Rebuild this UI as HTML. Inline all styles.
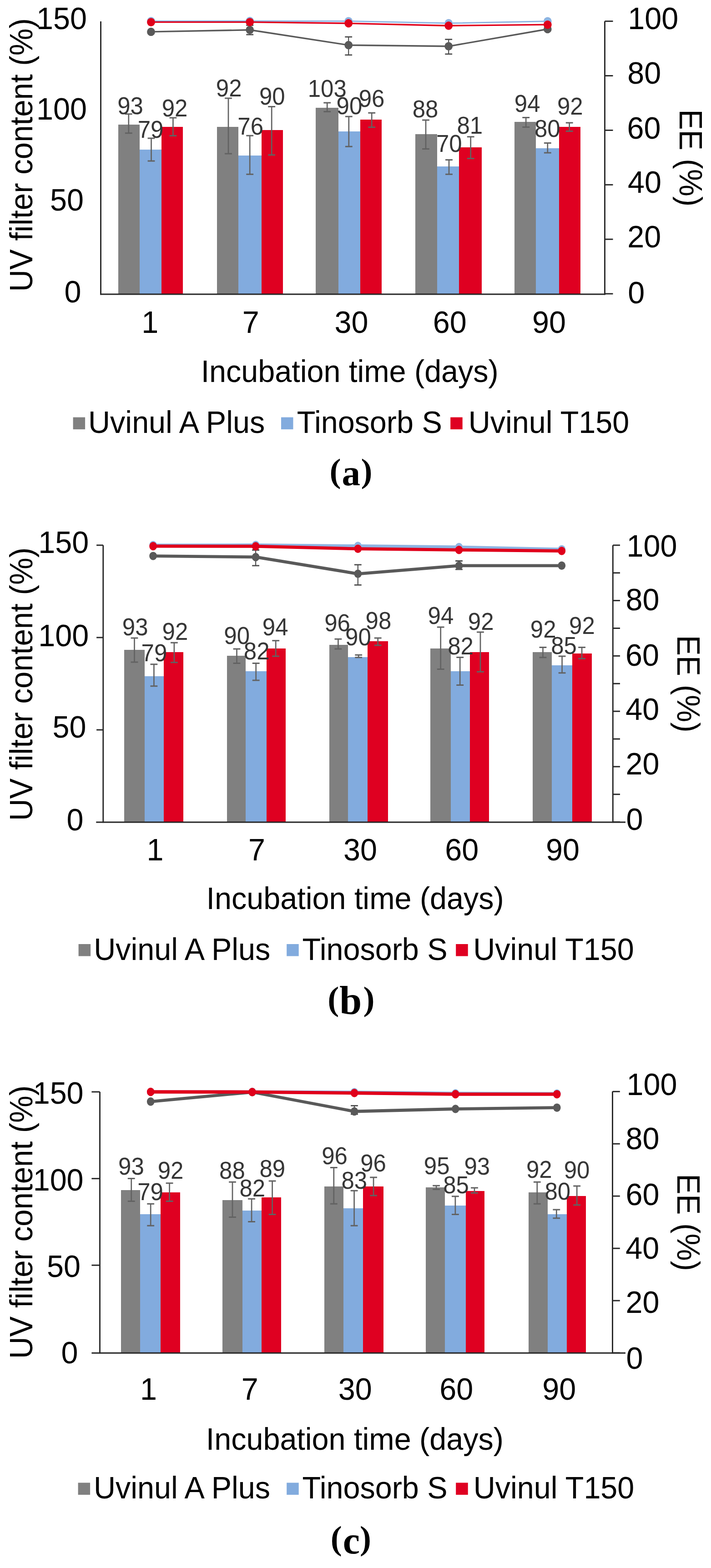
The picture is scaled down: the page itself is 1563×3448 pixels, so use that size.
<!DOCTYPE html>
<html><head><meta charset="utf-8"><title>UV filter content and EE over incubation time</title>
<style>
html,body{margin:0;padding:0;background:#fff;}
svg{display:block;}
text{font-family:'Liberation Sans', Arial, sans-serif;}
</style></head>
<body>
<svg width="1563" height="3448" viewBox="0 0 1563 3448">
<rect width="1563" height="3448" fill="#fff"/>
<rect x="260.00" y="274.00" width="47.00" height="373.00" fill="#808080"/>
<rect x="307.00" y="329.00" width="48.00" height="318.00" fill="#82ABDE"/>
<rect x="355.00" y="279.00" width="47.00" height="368.00" fill="#DF0021"/>
<rect x="477.00" y="279.00" width="47.00" height="368.00" fill="#808080"/>
<rect x="524.00" y="342.00" width="51.00" height="305.00" fill="#82ABDE"/>
<rect x="575.00" y="286.00" width="47.00" height="361.00" fill="#DF0021"/>
<rect x="694.00" y="237.00" width="50.00" height="410.00" fill="#808080"/>
<rect x="744.00" y="289.00" width="48.00" height="358.00" fill="#82ABDE"/>
<rect x="792.00" y="263.00" width="47.00" height="384.00" fill="#DF0021"/>
<rect x="913.00" y="295.00" width="48.00" height="352.00" fill="#808080"/>
<rect x="961.00" y="366.00" width="48.00" height="281.00" fill="#82ABDE"/>
<rect x="1009.00" y="324.00" width="50.00" height="323.00" fill="#DF0021"/>
<rect x="1131.00" y="268.00" width="47.00" height="379.00" fill="#808080"/>
<rect x="1178.00" y="326.00" width="51.00" height="321.00" fill="#82ABDE"/>
<rect x="1229.00" y="279.00" width="47.00" height="368.00" fill="#DF0021"/>
<path d="M282.80 250.70V292.80" stroke="#626262" stroke-width="2.7" fill="none"/>
<path d="M274.90 250.70H290.70M274.90 292.80H290.70" stroke="#626262" stroke-width="3.0" fill="none"/>
<path d="M332.50 304.00V354.10" stroke="#626262" stroke-width="2.7" fill="none"/>
<path d="M324.60 304.00H340.40M324.60 354.10H340.40" stroke="#626262" stroke-width="3.0" fill="none"/>
<path d="M380.40 258.90V298.60" stroke="#626262" stroke-width="2.7" fill="none"/>
<path d="M372.50 258.90H388.30M372.50 298.60H388.30" stroke="#626262" stroke-width="3.0" fill="none"/>
<path d="M502.00 216.10V338.00" stroke="#626262" stroke-width="2.7" fill="none"/>
<path d="M494.10 216.10H509.90M494.10 338.00H509.90" stroke="#626262" stroke-width="3.0" fill="none"/>
<path d="M549.20 298.30V383.20" stroke="#626262" stroke-width="2.7" fill="none"/>
<path d="M541.30 298.30H557.10M541.30 383.20H557.10" stroke="#626262" stroke-width="3.0" fill="none"/>
<path d="M597.20 234.60V340.80" stroke="#626262" stroke-width="2.7" fill="none"/>
<path d="M589.30 234.60H605.10M589.30 340.80H605.10" stroke="#626262" stroke-width="3.0" fill="none"/>
<path d="M719.20 226.00V245.50" stroke="#626262" stroke-width="2.7" fill="none"/>
<path d="M711.30 226.00H727.10M711.30 245.50H727.10" stroke="#626262" stroke-width="3.0" fill="none"/>
<path d="M766.80 256.20V322.30" stroke="#626262" stroke-width="2.7" fill="none"/>
<path d="M758.90 256.20H774.70M758.90 322.30H774.70" stroke="#626262" stroke-width="3.0" fill="none"/>
<path d="M817.20 248.30V279.80" stroke="#626262" stroke-width="2.7" fill="none"/>
<path d="M809.30 248.30H825.10M809.30 279.80H825.10" stroke="#626262" stroke-width="3.0" fill="none"/>
<path d="M936.00 264.00V327.40" stroke="#626262" stroke-width="2.7" fill="none"/>
<path d="M928.10 264.00H943.90M928.10 327.40H943.90" stroke="#626262" stroke-width="3.0" fill="none"/>
<path d="M987.00 351.40V383.20" stroke="#626262" stroke-width="2.7" fill="none"/>
<path d="M979.10 351.40H994.90M979.10 383.20H994.90" stroke="#626262" stroke-width="3.0" fill="none"/>
<path d="M1034.70 300.70V348.60" stroke="#626262" stroke-width="2.7" fill="none"/>
<path d="M1026.80 300.70H1042.60M1026.80 348.60H1042.60" stroke="#626262" stroke-width="3.0" fill="none"/>
<path d="M1156.20 258.60V279.50" stroke="#626262" stroke-width="2.7" fill="none"/>
<path d="M1148.30 258.60H1164.10M1148.30 279.50H1164.10" stroke="#626262" stroke-width="3.0" fill="none"/>
<path d="M1203.80 314.40V336.00" stroke="#626262" stroke-width="2.7" fill="none"/>
<path d="M1195.90 314.40H1211.70M1195.90 336.00H1211.70" stroke="#626262" stroke-width="3.0" fill="none"/>
<path d="M1251.70 269.90V288.40" stroke="#626262" stroke-width="2.7" fill="none"/>
<path d="M1243.80 269.90H1259.60M1243.80 288.40H1259.60" stroke="#626262" stroke-width="3.0" fill="none"/>
<text transform="translate(258.25 250.92) scale(1 1.04)" font-size="51.0" fill="#363636">93</text>
<text transform="translate(302.75 302.77) scale(1 1.04)" font-size="51.0" fill="#363636">79</text>
<text transform="translate(355.75 256.02) scale(1 1.04)" font-size="51.0" fill="#363636">92</text>
<text transform="translate(474.85 212.37) scale(1 1.04)" font-size="51.0" fill="#363636">92</text>
<text transform="translate(522.30 295.97) scale(1 1.04)" font-size="51.0" fill="#363636">76</text>
<text transform="translate(569.90 230.02) scale(1 1.04)" font-size="51.0" fill="#363636">90</text>
<text transform="translate(676.75 212.92) scale(1 1.04)" font-size="51.0" fill="#363636">103</text>
<text transform="translate(739.55 251.22) scale(1 1.04)" font-size="51.0" fill="#363636">90</text>
<text transform="translate(788.70 234.97) scale(1 1.04)" font-size="51.0" fill="#363636">96</text>
<text transform="translate(906.70 258.27) scale(1 1.04)" font-size="51.0" fill="#363636">88</text>
<text transform="translate(959.00 333.62) scale(1 1.04)" font-size="51.0" fill="#363636">70</text>
<text transform="translate(1004.45 294.27) scale(1 1.04)" font-size="51.0" fill="#363636">81</text>
<text transform="translate(1130.80 245.77) scale(1 1.04)" font-size="51.0" fill="#363636">94</text>
<text transform="translate(1174.90 301.07) scale(1 1.04)" font-size="51.0" fill="#363636">80</text>
<text transform="translate(1224.90 252.47) scale(1 1.04)" font-size="51.0" fill="#363636">92</text>
<line x1="221.50" y1="47.00" x2="221.50" y2="648.30" stroke="#262626" stroke-width="2.9"/>
<line x1="220.20" y1="647.00" x2="1330.80" y2="647.00" stroke="#262626" stroke-width="2.9"/>
<line x1="1329.50" y1="46.70" x2="1329.50" y2="648.30" stroke="#262626" stroke-width="2.9"/>
<line x1="1329.50" y1="46.70" x2="1347.50" y2="46.70" stroke="#262626" stroke-width="2.9"/>
<line x1="1329.50" y1="166.56" x2="1347.50" y2="166.56" stroke="#262626" stroke-width="2.9"/>
<line x1="1329.50" y1="286.42" x2="1347.50" y2="286.42" stroke="#262626" stroke-width="2.9"/>
<line x1="1329.50" y1="406.28" x2="1347.50" y2="406.28" stroke="#262626" stroke-width="2.9"/>
<line x1="1329.50" y1="526.14" x2="1347.50" y2="526.14" stroke="#262626" stroke-width="2.9"/>
<line x1="1329.50" y1="646.00" x2="1347.50" y2="646.00" stroke="#262626" stroke-width="2.9"/>
<path d="M549.20 55.50V76.20" stroke="#4d4d4d" stroke-width="2.2" fill="none"/>
<path d="M541.30 55.50H557.10M541.30 76.20H557.10" stroke="#4d4d4d" stroke-width="2.8" fill="none"/>
<path d="M766.20 81.10V120.90" stroke="#4d4d4d" stroke-width="2.2" fill="none"/>
<path d="M758.30 81.10H774.10M758.30 120.90H774.10" stroke="#4d4d4d" stroke-width="2.8" fill="none"/>
<path d="M986.20 86.60V118.80" stroke="#4d4d4d" stroke-width="2.2" fill="none"/>
<path d="M978.30 86.60H994.10M978.30 118.80H994.10" stroke="#4d4d4d" stroke-width="2.8" fill="none"/>
<polyline points="332.00,69.90 549.20,65.80 766.20,99.20 986.20,101.80 1203.80,64.00" fill="none" stroke="#595959" stroke-width="3.4" stroke-linejoin="round"/>
<ellipse cx="332.00" cy="69.90" rx="8.9" ry="9.2" fill="#595959"/>
<ellipse cx="549.20" cy="65.80" rx="8.9" ry="9.2" fill="#595959"/>
<ellipse cx="766.20" cy="99.20" rx="8.9" ry="9.2" fill="#595959"/>
<ellipse cx="986.20" cy="101.80" rx="8.9" ry="9.2" fill="#595959"/>
<ellipse cx="1203.80" cy="64.00" rx="8.9" ry="9.2" fill="#595959"/>
<polyline points="332.00,46.40 549.20,46.20 766.20,46.60 986.20,51.00 1203.80,46.80" fill="none" stroke="#8DB4E2" stroke-width="3.0" stroke-linejoin="round"/>
<ellipse cx="332.00" cy="46.40" rx="8.9" ry="9.2" fill="#8DB4E2"/>
<ellipse cx="549.20" cy="46.20" rx="8.9" ry="9.2" fill="#8DB4E2"/>
<ellipse cx="766.20" cy="46.60" rx="8.9" ry="9.2" fill="#8DB4E2"/>
<ellipse cx="986.20" cy="51.00" rx="8.9" ry="9.2" fill="#8DB4E2"/>
<ellipse cx="1203.80" cy="46.80" rx="8.9" ry="9.2" fill="#8DB4E2"/>
<polyline points="332.00,48.70 549.20,48.60 766.20,51.30 986.20,56.50 1203.80,54.20" fill="none" stroke="#E0001B" stroke-width="3.3" stroke-linejoin="round"/>
<ellipse cx="332.00" cy="48.70" rx="8.9" ry="9.2" fill="#E0001B"/>
<ellipse cx="549.20" cy="48.60" rx="8.9" ry="9.2" fill="#E0001B"/>
<ellipse cx="766.20" cy="51.30" rx="8.9" ry="9.2" fill="#E0001B"/>
<ellipse cx="986.20" cy="56.50" rx="8.9" ry="9.2" fill="#E0001B"/>
<ellipse cx="1203.80" cy="54.20" rx="8.9" ry="9.2" fill="#E0001B"/>
<text transform="translate(79.95 64.17) scale(1 1.04)" font-size="66.5" fill="#000">150</text>
<text transform="translate(79.95 262.77) scale(1 1.04)" font-size="66.5" fill="#000">100</text>
<text transform="translate(110.10 463.27) scale(1 1.04)" font-size="66.5" fill="#000">50</text>
<text transform="translate(141.50 664.87) scale(1 1.04)" font-size="66.5" fill="#000">0</text>
<text transform="translate(1380.30 64.02) scale(1 1.04)" font-size="66.5" fill="#000">100</text>
<text transform="translate(1379.30 183.97) scale(1 1.04)" font-size="66.5" fill="#000">80</text>
<text transform="translate(1378.40 305.17) scale(1 1.04)" font-size="66.5" fill="#000">60</text>
<text transform="translate(1379.90 424.37) scale(1 1.04)" font-size="66.5" fill="#000">40</text>
<text transform="translate(1379.30 543.87) scale(1 1.04)" font-size="66.5" fill="#000">20</text>
<text transform="translate(1380.30 666.57) scale(1 1.04)" font-size="66.5" fill="#000">0</text>
<text transform="translate(311.30 732.42) scale(1 1.04)" font-size="66.5" fill="#000">1</text>
<text transform="translate(532.70 732.42) scale(1 1.04)" font-size="66.5" fill="#000">7</text>
<text transform="translate(735.60 732.42) scale(1 1.04)" font-size="66.5" fill="#000">30</text>
<text transform="translate(951.80 732.42) scale(1 1.04)" font-size="66.5" fill="#000">60</text>
<text transform="translate(1170.00 732.42) scale(1 1.04)" font-size="66.5" fill="#000">90</text>
<text transform="translate(441.65 839.63) scale(1 1.04)" font-size="66.5" fill="#000">Incubation time (days)</text>
<text transform="translate(53.00 340.40) rotate(-90) translate(-301.00 17.68) scale(1 1.04)" font-size="67.2" fill="#000">UV filter content (%)</text>
<text transform="translate(1511.30 347.90) rotate(90) translate(-107.50 17.68) scale(1 1.04)" font-size="67.5" fill="#000">EE (%)</text>
<rect x="160.60" y="917.60" width="26.50" height="26.50" fill="#808080"/>
<rect x="618.00" y="917.60" width="26.50" height="26.50" fill="#82ABDE"/>
<rect x="990.20" y="917.60" width="26.50" height="26.50" fill="#DF0021"/>
<text transform="translate(194.10 951.60) scale(1 1.04)" font-size="66.5" fill="#000">Uvinul A Plus</text>
<text transform="translate(652.75 951.60) scale(1 1.04)" font-size="66.5" fill="#000">Tinosorb S</text>
<text transform="translate(1029.70 951.60) scale(1 1.04)" font-size="66.5" fill="#000">Uvinul T150</text>
<text font-weight="bold" style="font-family:'Liberation Serif', 'Times New Roman', serif" fill="#000"><tspan x="724.60" y="1059.70" font-size="75">(</tspan><tspan x="751.40" y="1067.10" font-size="81">a</tspan><tspan x="793.40" y="1059.70" font-size="75">)</tspan></text>
<rect x="273.00" y="1429.00" width="45.00" height="379.00" fill="#808080"/>
<rect x="318.00" y="1487.00" width="42.00" height="321.00" fill="#82ABDE"/>
<rect x="360.00" y="1434.00" width="43.00" height="374.00" fill="#DF0021"/>
<rect x="499.00" y="1442.00" width="41.00" height="366.00" fill="#808080"/>
<rect x="540.00" y="1476.00" width="46.00" height="332.00" fill="#82ABDE"/>
<rect x="586.00" y="1426.00" width="42.00" height="382.00" fill="#DF0021"/>
<rect x="724.00" y="1418.00" width="41.00" height="390.00" fill="#808080"/>
<rect x="765.00" y="1445.00" width="43.00" height="363.00" fill="#82ABDE"/>
<rect x="808.00" y="1410.00" width="45.00" height="398.00" fill="#DF0021"/>
<rect x="946.00" y="1426.00" width="45.00" height="382.00" fill="#808080"/>
<rect x="991.00" y="1476.00" width="42.00" height="332.00" fill="#82ABDE"/>
<rect x="1033.00" y="1434.00" width="42.00" height="374.00" fill="#DF0021"/>
<rect x="1171.00" y="1434.00" width="42.00" height="374.00" fill="#808080"/>
<rect x="1213.00" y="1463.00" width="45.00" height="345.00" fill="#82ABDE"/>
<rect x="1258.00" y="1437.00" width="43.00" height="371.00" fill="#DF0021"/>
<path d="M295.50 1403.00V1456.00" stroke="#626262" stroke-width="2.7" fill="none"/>
<path d="M287.60 1403.00H303.40M287.60 1456.00H303.40" stroke="#626262" stroke-width="3.0" fill="none"/>
<path d="M338.40 1460.80V1508.80" stroke="#626262" stroke-width="2.7" fill="none"/>
<path d="M330.50 1460.80H346.30M330.50 1508.80H346.30" stroke="#626262" stroke-width="3.0" fill="none"/>
<path d="M382.90 1413.20V1456.70" stroke="#626262" stroke-width="2.7" fill="none"/>
<path d="M375.00 1413.20H390.80M375.00 1456.70H390.80" stroke="#626262" stroke-width="3.0" fill="none"/>
<path d="M520.50 1426.90V1458.40" stroke="#626262" stroke-width="2.7" fill="none"/>
<path d="M512.60 1426.90H528.40M512.60 1458.40H528.40" stroke="#626262" stroke-width="3.0" fill="none"/>
<path d="M562.70 1458.40V1496.10" stroke="#626262" stroke-width="2.7" fill="none"/>
<path d="M554.80 1458.40H570.60M554.80 1496.10H570.60" stroke="#626262" stroke-width="3.0" fill="none"/>
<path d="M606.20 1408.80V1443.00" stroke="#626262" stroke-width="2.7" fill="none"/>
<path d="M598.30 1408.80H614.10M598.30 1443.00H614.10" stroke="#626262" stroke-width="3.0" fill="none"/>
<path d="M743.40 1405.30V1426.90" stroke="#626262" stroke-width="2.7" fill="none"/>
<path d="M735.50 1405.30H751.30M735.50 1426.90H751.30" stroke="#626262" stroke-width="3.0" fill="none"/>
<path d="M788.20 1440.30V1445.80" stroke="#626262" stroke-width="2.7" fill="none"/>
<path d="M780.30 1440.30H796.10M780.30 1445.80H796.10" stroke="#626262" stroke-width="3.0" fill="none"/>
<path d="M830.70 1403.00V1419.00" stroke="#626262" stroke-width="2.7" fill="none"/>
<path d="M822.80 1403.00H838.60M822.80 1419.00H838.60" stroke="#626262" stroke-width="3.0" fill="none"/>
<path d="M968.70 1379.00V1471.40" stroke="#626262" stroke-width="2.7" fill="none"/>
<path d="M960.80 1379.00H976.60M960.80 1471.40H976.60" stroke="#626262" stroke-width="3.0" fill="none"/>
<path d="M1011.20 1445.40V1506.40" stroke="#626262" stroke-width="2.7" fill="none"/>
<path d="M1003.30 1445.40H1019.10M1003.30 1506.40H1019.10" stroke="#626262" stroke-width="3.0" fill="none"/>
<path d="M1056.00 1390.00V1477.30" stroke="#626262" stroke-width="2.7" fill="none"/>
<path d="M1048.10 1390.00H1063.90M1048.10 1477.30H1063.90" stroke="#626262" stroke-width="3.0" fill="none"/>
<path d="M1193.50 1423.50V1445.80" stroke="#626262" stroke-width="2.7" fill="none"/>
<path d="M1185.60 1423.50H1201.40M1185.60 1445.80H1201.40" stroke="#626262" stroke-width="3.0" fill="none"/>
<path d="M1235.60 1443.00V1479.70" stroke="#626262" stroke-width="2.7" fill="none"/>
<path d="M1227.70 1443.00H1243.50M1227.70 1479.70H1243.50" stroke="#626262" stroke-width="3.0" fill="none"/>
<path d="M1279.10 1423.50V1448.20" stroke="#626262" stroke-width="2.7" fill="none"/>
<path d="M1271.20 1423.50H1287.00M1271.20 1448.20H1287.00" stroke="#626262" stroke-width="3.0" fill="none"/>
<text transform="translate(268.80 1396.67) scale(1 1.04)" font-size="51.0" fill="#363636">93</text>
<text transform="translate(310.55 1454.22) scale(1 1.04)" font-size="51.0" fill="#363636">79</text>
<text transform="translate(356.60 1406.92) scale(1 1.04)" font-size="51.0" fill="#363636">92</text>
<text transform="translate(492.35 1416.02) scale(1 1.04)" font-size="51.0" fill="#363636">90</text>
<text transform="translate(535.85 1449.92) scale(1 1.04)" font-size="51.0" fill="#363636">82</text>
<text transform="translate(576.80 1397.17) scale(1 1.04)" font-size="51.0" fill="#363636">94</text>
<text transform="translate(713.15 1387.57) scale(1 1.04)" font-size="51.0" fill="#363636">96</text>
<text transform="translate(759.05 1418.92) scale(1 1.04)" font-size="51.0" fill="#363636">90</text>
<text transform="translate(803.55 1382.92) scale(1 1.04)" font-size="51.0" fill="#363636">98</text>
<text transform="translate(940.55 1372.17) scale(1 1.04)" font-size="51.0" fill="#363636">94</text>
<text transform="translate(984.20 1438.62) scale(1 1.04)" font-size="51.0" fill="#363636">82</text>
<text transform="translate(1028.80 1385.17) scale(1 1.04)" font-size="51.0" fill="#363636">92</text>
<text transform="translate(1165.85 1401.82) scale(1 1.04)" font-size="51.0" fill="#363636">92</text>
<text transform="translate(1211.20 1437.77) scale(1 1.04)" font-size="51.0" fill="#363636">85</text>
<text transform="translate(1251.10 1394.47) scale(1 1.04)" font-size="51.0" fill="#363636">92</text>
<line x1="226.80" y1="1198.90" x2="226.80" y2="1809.30" stroke="#262626" stroke-width="2.9"/>
<line x1="211.30" y1="1808.00" x2="1375.00" y2="1808.00" stroke="#262626" stroke-width="2.9"/>
<line x1="1347.30" y1="1198.90" x2="1347.30" y2="1809.30" stroke="#262626" stroke-width="2.9"/>
<line x1="212.10" y1="1198.90" x2="226.80" y2="1198.90" stroke="#262626" stroke-width="2.9"/>
<line x1="212.10" y1="1401.93" x2="226.80" y2="1401.93" stroke="#262626" stroke-width="2.9"/>
<line x1="212.10" y1="1604.96" x2="226.80" y2="1604.96" stroke="#262626" stroke-width="2.9"/>
<line x1="1347.30" y1="1198.90" x2="1363.00" y2="1198.90" stroke="#262626" stroke-width="2.9"/>
<line x1="1347.30" y1="1259.77" x2="1363.00" y2="1259.77" stroke="#262626" stroke-width="2.9"/>
<line x1="1347.30" y1="1320.64" x2="1363.00" y2="1320.64" stroke="#262626" stroke-width="2.9"/>
<line x1="1347.30" y1="1381.51" x2="1363.00" y2="1381.51" stroke="#262626" stroke-width="2.9"/>
<line x1="1347.30" y1="1442.38" x2="1363.00" y2="1442.38" stroke="#262626" stroke-width="2.9"/>
<line x1="1347.30" y1="1503.25" x2="1363.00" y2="1503.25" stroke="#262626" stroke-width="2.9"/>
<line x1="1347.30" y1="1564.12" x2="1363.00" y2="1564.12" stroke="#262626" stroke-width="2.9"/>
<line x1="1347.30" y1="1624.99" x2="1363.00" y2="1624.99" stroke="#262626" stroke-width="2.9"/>
<line x1="1347.30" y1="1685.86" x2="1363.00" y2="1685.86" stroke="#262626" stroke-width="2.9"/>
<line x1="1347.30" y1="1746.73" x2="1363.00" y2="1746.73" stroke="#262626" stroke-width="2.9"/>
<line x1="1347.30" y1="1807.60" x2="1363.00" y2="1807.60" stroke="#262626" stroke-width="2.9"/>
<path d="M562.10 1209.50V1243.80" stroke="#4d4d4d" stroke-width="2.2" fill="none"/>
<path d="M554.20 1209.50H570.00M554.20 1243.80H570.00" stroke="#4d4d4d" stroke-width="2.8" fill="none"/>
<path d="M786.80 1241.80V1286.30" stroke="#4d4d4d" stroke-width="2.2" fill="none"/>
<path d="M778.90 1241.80H794.70M778.90 1286.30H794.70" stroke="#4d4d4d" stroke-width="2.8" fill="none"/>
<path d="M1009.00 1233.50V1252.20" stroke="#4d4d4d" stroke-width="2.2" fill="none"/>
<path d="M1001.10 1233.50H1016.90M1001.10 1252.20H1016.90" stroke="#4d4d4d" stroke-width="2.8" fill="none"/>
<polyline points="336.60,1222.60 562.10,1224.90 786.80,1261.80 1009.00,1243.90 1234.80,1243.80" fill="none" stroke="#595959" stroke-width="6.8" stroke-linejoin="round"/>
<ellipse cx="336.60" cy="1222.60" rx="8.4" ry="9.2" fill="#595959"/>
<ellipse cx="562.10" cy="1224.90" rx="8.4" ry="9.2" fill="#595959"/>
<ellipse cx="786.80" cy="1261.80" rx="8.4" ry="9.2" fill="#595959"/>
<ellipse cx="1009.00" cy="1243.90" rx="8.4" ry="9.2" fill="#595959"/>
<ellipse cx="1234.80" cy="1243.80" rx="8.4" ry="9.2" fill="#595959"/>
<polyline points="336.60,1198.80 562.10,1198.50 786.80,1200.50 1009.00,1203.00 1234.80,1208.00" fill="none" stroke="#8DB4E2" stroke-width="6.8" stroke-linejoin="round"/>
<ellipse cx="336.60" cy="1198.80" rx="8.4" ry="9.2" fill="#8DB4E2"/>
<ellipse cx="562.10" cy="1198.50" rx="8.4" ry="9.2" fill="#8DB4E2"/>
<ellipse cx="786.80" cy="1200.50" rx="8.4" ry="9.2" fill="#8DB4E2"/>
<ellipse cx="1009.00" cy="1203.00" rx="8.4" ry="9.2" fill="#8DB4E2"/>
<ellipse cx="1234.80" cy="1208.00" rx="8.4" ry="9.2" fill="#8DB4E2"/>
<polyline points="336.60,1201.00 562.10,1201.20 786.80,1206.80 1009.00,1209.20 1234.80,1211.50" fill="none" stroke="#E0001B" stroke-width="7.0" stroke-linejoin="round"/>
<ellipse cx="336.60" cy="1201.00" rx="8.4" ry="9.2" fill="#E0001B"/>
<ellipse cx="562.10" cy="1201.20" rx="8.4" ry="9.2" fill="#E0001B"/>
<ellipse cx="786.80" cy="1206.80" rx="8.4" ry="9.2" fill="#E0001B"/>
<ellipse cx="1009.00" cy="1209.20" rx="8.4" ry="9.2" fill="#E0001B"/>
<ellipse cx="1234.80" cy="1211.50" rx="8.4" ry="9.2" fill="#E0001B"/>
<text transform="translate(84.30 1216.47) scale(1 1.04)" font-size="66.5" fill="#000">150</text>
<text transform="translate(84.30 1420.77) scale(1 1.04)" font-size="66.5" fill="#000">100</text>
<text transform="translate(115.45 1621.52) scale(1 1.04)" font-size="66.5" fill="#000">50</text>
<text transform="translate(146.40 1825.57) scale(1 1.04)" font-size="66.5" fill="#000">0</text>
<text transform="translate(1377.60 1223.52) scale(1 1.04)" font-size="66.5" fill="#000">100</text>
<text transform="translate(1375.50 1342.42) scale(1 1.04)" font-size="66.5" fill="#000">80</text>
<text transform="translate(1375.00 1464.02) scale(1 1.04)" font-size="66.5" fill="#000">60</text>
<text transform="translate(1375.30 1582.87) scale(1 1.04)" font-size="66.5" fill="#000">40</text>
<text transform="translate(1375.50 1702.87) scale(1 1.04)" font-size="66.5" fill="#000">20</text>
<text transform="translate(1376.50 1824.77) scale(1 1.04)" font-size="66.5" fill="#000">0</text>
<text transform="translate(322.50 1892.02) scale(1 1.04)" font-size="66.5" fill="#000">1</text>
<text transform="translate(546.00 1892.02) scale(1 1.04)" font-size="66.5" fill="#000">7</text>
<text transform="translate(755.00 1892.02) scale(1 1.04)" font-size="66.5" fill="#000">30</text>
<text transform="translate(978.30 1892.02) scale(1 1.04)" font-size="66.5" fill="#000">60</text>
<text transform="translate(1200.00 1892.02) scale(1 1.04)" font-size="66.5" fill="#000">90</text>
<text transform="translate(453.60 1998.83) scale(1 1.04)" font-size="66.5" fill="#000">Incubation time (days)</text>
<text transform="translate(53.10 1504.10) rotate(-90) translate(-301.00 17.68) scale(1 1.04)" font-size="67.2" fill="#000">UV filter content (%)</text>
<text transform="translate(1506.80 1504.35) rotate(90) translate(-107.50 17.68) scale(1 1.04)" font-size="67.5" fill="#000">EE (%)</text>
<rect x="172.60" y="2076.00" width="26.50" height="26.50" fill="#808080"/>
<rect x="630.20" y="2076.00" width="26.50" height="26.50" fill="#82ABDE"/>
<rect x="1002.20" y="2076.00" width="26.50" height="26.50" fill="#DF0021"/>
<text transform="translate(206.30 2111.10) scale(1 1.04)" font-size="66.5" fill="#000">Uvinul A Plus</text>
<text transform="translate(664.55 2111.10) scale(1 1.04)" font-size="66.5" fill="#000">Tinosorb S</text>
<text transform="translate(1040.15 2111.10) scale(1 1.04)" font-size="66.5" fill="#000">Uvinul T150</text>
<text font-weight="bold" style="font-family:'Liberation Serif', 'Times New Roman', serif" fill="#000"><tspan x="720.25" y="2220.85" font-size="75">(</tspan><tspan x="746.35" y="2230.35" font-size="88">b</tspan><tspan x="798.55" y="2220.85" font-size="75">)</tspan></text>
<rect x="266.00" y="2617.00" width="42.00" height="358.30" fill="#808080"/>
<rect x="308.00" y="2670.00" width="45.00" height="305.30" fill="#82ABDE"/>
<rect x="353.00" y="2622.00" width="43.00" height="353.30" fill="#DF0021"/>
<rect x="489.00" y="2639.00" width="44.00" height="336.30" fill="#808080"/>
<rect x="533.00" y="2662.00" width="42.00" height="313.30" fill="#82ABDE"/>
<rect x="575.00" y="2633.00" width="43.00" height="342.30" fill="#DF0021"/>
<rect x="713.00" y="2609.00" width="42.00" height="366.30" fill="#808080"/>
<rect x="755.00" y="2657.00" width="43.00" height="318.30" fill="#82ABDE"/>
<rect x="798.00" y="2609.00" width="45.00" height="366.30" fill="#DF0021"/>
<rect x="936.00" y="2611.00" width="42.00" height="364.30" fill="#808080"/>
<rect x="978.00" y="2651.00" width="46.00" height="324.30" fill="#82ABDE"/>
<rect x="1024.00" y="2619.00" width="41.00" height="356.30" fill="#DF0021"/>
<rect x="1162.00" y="2622.00" width="42.00" height="353.30" fill="#808080"/>
<rect x="1204.00" y="2670.00" width="42.00" height="305.30" fill="#82ABDE"/>
<rect x="1246.00" y="2630.00" width="42.00" height="345.30" fill="#DF0021"/>
<path d="M288.70 2591.40V2641.40" stroke="#626262" stroke-width="2.7" fill="none"/>
<path d="M280.80 2591.40H296.60M280.80 2641.40H296.60" stroke="#626262" stroke-width="3.0" fill="none"/>
<path d="M331.20 2647.30V2695.20" stroke="#626262" stroke-width="2.7" fill="none"/>
<path d="M323.30 2647.30H339.10M323.30 2695.20H339.10" stroke="#626262" stroke-width="3.0" fill="none"/>
<path d="M372.60 2601.70V2641.40" stroke="#626262" stroke-width="2.7" fill="none"/>
<path d="M364.70 2601.70H380.50M364.70 2641.40H380.50" stroke="#626262" stroke-width="3.0" fill="none"/>
<path d="M511.00 2599.30V2676.40" stroke="#626262" stroke-width="2.7" fill="none"/>
<path d="M503.10 2599.30H518.90M503.10 2676.40H518.90" stroke="#626262" stroke-width="3.0" fill="none"/>
<path d="M553.10 2636.30V2686.60" stroke="#626262" stroke-width="2.7" fill="none"/>
<path d="M545.20 2636.30H561.00M545.20 2686.60H561.00" stroke="#626262" stroke-width="3.0" fill="none"/>
<path d="M598.60 2596.90V2670.50" stroke="#626262" stroke-width="2.7" fill="none"/>
<path d="M590.70 2596.90H606.50M590.70 2670.50H606.50" stroke="#626262" stroke-width="3.0" fill="none"/>
<path d="M733.80 2567.50V2647.30" stroke="#626262" stroke-width="2.7" fill="none"/>
<path d="M725.90 2567.50H741.70M725.90 2647.30H741.70" stroke="#626262" stroke-width="3.0" fill="none"/>
<path d="M778.60 2618.20V2695.20" stroke="#626262" stroke-width="2.7" fill="none"/>
<path d="M770.70 2618.20H786.50M770.70 2695.20H786.50" stroke="#626262" stroke-width="3.0" fill="none"/>
<path d="M821.10 2589.00V2629.10" stroke="#626262" stroke-width="2.7" fill="none"/>
<path d="M813.20 2589.00H829.00M813.20 2629.10H829.00" stroke="#626262" stroke-width="3.0" fill="none"/>
<path d="M959.10 2607.20V2615.40" stroke="#626262" stroke-width="2.7" fill="none"/>
<path d="M951.20 2607.20H967.00M951.20 2615.40H967.00" stroke="#626262" stroke-width="3.0" fill="none"/>
<path d="M1000.90 2630.80V2670.50" stroke="#626262" stroke-width="2.7" fill="none"/>
<path d="M993.00 2630.80H1008.80M993.00 2670.50H1008.80" stroke="#626262" stroke-width="3.0" fill="none"/>
<path d="M1043.00 2612.00V2623.30" stroke="#626262" stroke-width="2.7" fill="none"/>
<path d="M1035.10 2612.00H1050.90M1035.10 2623.30H1050.90" stroke="#626262" stroke-width="3.0" fill="none"/>
<path d="M1180.80 2599.30V2647.30" stroke="#626262" stroke-width="2.7" fill="none"/>
<path d="M1172.90 2599.30H1188.70M1172.90 2647.30H1188.70" stroke="#626262" stroke-width="3.0" fill="none"/>
<path d="M1223.30 2659.90V2678.80" stroke="#626262" stroke-width="2.7" fill="none"/>
<path d="M1215.40 2659.90H1231.20M1215.40 2678.80H1231.20" stroke="#626262" stroke-width="3.0" fill="none"/>
<path d="M1268.20 2607.90V2649.70" stroke="#626262" stroke-width="2.7" fill="none"/>
<path d="M1260.30 2607.90H1276.10M1260.30 2649.70H1276.10" stroke="#626262" stroke-width="3.0" fill="none"/>
<text transform="translate(260.05 2582.92) scale(1 1.04)" font-size="51.0" fill="#363636">93</text>
<text transform="translate(302.15 2639.42) scale(1 1.04)" font-size="51.0" fill="#363636">79</text>
<text transform="translate(346.65 2591.52) scale(1 1.04)" font-size="51.0" fill="#363636">92</text>
<text transform="translate(482.10 2591.52) scale(1 1.04)" font-size="51.0" fill="#363636">88</text>
<text transform="translate(526.45 2630.87) scale(1 1.04)" font-size="51.0" fill="#363636">82</text>
<text transform="translate(570.45 2588.07) scale(1 1.04)" font-size="51.0" fill="#363636">89</text>
<text transform="translate(707.15 2559.82) scale(1 1.04)" font-size="51.0" fill="#363636">96</text>
<text transform="translate(750.45 2613.72) scale(1 1.04)" font-size="51.0" fill="#363636">83</text>
<text transform="translate(792.25 2576.07) scale(1 1.04)" font-size="51.0" fill="#363636">96</text>
<text transform="translate(931.80 2582.07) scale(1 1.04)" font-size="51.0" fill="#363636">95</text>
<text transform="translate(974.25 2624.02) scale(1 1.04)" font-size="51.0" fill="#363636">85</text>
<text transform="translate(1020.50 2583.27) scale(1 1.04)" font-size="51.0" fill="#363636">93</text>
<text transform="translate(1156.90 2590.47) scale(1 1.04)" font-size="51.0" fill="#363636">92</text>
<text transform="translate(1197.50 2637.72) scale(1 1.04)" font-size="51.0" fill="#363636">80</text>
<text transform="translate(1239.65 2590.97) scale(1 1.04)" font-size="51.0" fill="#363636">90</text>
<line x1="219.50" y1="2401.00" x2="219.50" y2="2976.60" stroke="#262626" stroke-width="2.9"/>
<line x1="201.40" y1="2975.30" x2="1375.00" y2="2975.30" stroke="#262626" stroke-width="2.9"/>
<line x1="1346.50" y1="2400.30" x2="1346.50" y2="2976.60" stroke="#262626" stroke-width="2.9"/>
<line x1="201.40" y1="2401.00" x2="219.50" y2="2401.00" stroke="#262626" stroke-width="2.9"/>
<line x1="201.40" y1="2591.70" x2="219.50" y2="2591.70" stroke="#262626" stroke-width="2.9"/>
<line x1="201.40" y1="2782.20" x2="219.50" y2="2782.20" stroke="#262626" stroke-width="2.9"/>
<line x1="1346.50" y1="2400.30" x2="1362.80" y2="2400.30" stroke="#262626" stroke-width="2.9"/>
<line x1="1346.50" y1="2515.24" x2="1362.80" y2="2515.24" stroke="#262626" stroke-width="2.9"/>
<line x1="1346.50" y1="2630.18" x2="1362.80" y2="2630.18" stroke="#262626" stroke-width="2.9"/>
<line x1="1346.50" y1="2745.12" x2="1362.80" y2="2745.12" stroke="#262626" stroke-width="2.9"/>
<line x1="1346.50" y1="2860.06" x2="1362.80" y2="2860.06" stroke="#262626" stroke-width="2.9"/>
<line x1="1346.50" y1="2975.00" x2="1362.80" y2="2975.00" stroke="#262626" stroke-width="2.9"/>
<path d="M779.00 2431.40V2450.00" stroke="#4d4d4d" stroke-width="2.2" fill="none"/>
<path d="M771.10 2431.40H786.90M771.10 2450.00H786.90" stroke="#4d4d4d" stroke-width="2.8" fill="none"/>
<polyline points="331.20,2422.40 554.50,2401.50 779.00,2444.00 1001.30,2438.50 1224.30,2435.70" fill="none" stroke="#595959" stroke-width="6.8" stroke-linejoin="round"/>
<ellipse cx="331.20" cy="2422.40" rx="8.3" ry="9.3" fill="#595959"/>
<ellipse cx="554.50" cy="2401.50" rx="8.3" ry="9.3" fill="#595959"/>
<ellipse cx="779.00" cy="2444.00" rx="8.3" ry="9.3" fill="#595959"/>
<ellipse cx="1001.30" cy="2438.50" rx="8.3" ry="9.3" fill="#595959"/>
<ellipse cx="1224.30" cy="2435.70" rx="8.3" ry="9.3" fill="#595959"/>
<polyline points="331.20,2401.00 554.50,2401.00 779.00,2401.70 1001.30,2404.30 1224.30,2404.90" fill="none" stroke="#8DB4E2" stroke-width="7.0" stroke-linejoin="round"/>
<ellipse cx="331.20" cy="2401.00" rx="8.3" ry="9.3" fill="#8DB4E2"/>
<ellipse cx="554.50" cy="2401.00" rx="8.3" ry="9.3" fill="#8DB4E2"/>
<ellipse cx="779.00" cy="2401.70" rx="8.3" ry="9.3" fill="#8DB4E2"/>
<ellipse cx="1001.30" cy="2404.30" rx="8.3" ry="9.3" fill="#8DB4E2"/>
<ellipse cx="1224.30" cy="2404.90" rx="8.3" ry="9.3" fill="#8DB4E2"/>
<polyline points="331.20,2401.00 554.50,2401.30 779.00,2403.50 1001.30,2406.10 1224.30,2406.20" fill="none" stroke="#E0001B" stroke-width="7.3" stroke-linejoin="round"/>
<ellipse cx="331.20" cy="2401.00" rx="8.3" ry="9.3" fill="#E0001B"/>
<ellipse cx="554.50" cy="2401.30" rx="8.3" ry="9.3" fill="#E0001B"/>
<ellipse cx="779.00" cy="2403.50" rx="8.3" ry="9.3" fill="#E0001B"/>
<ellipse cx="1001.30" cy="2406.10" rx="8.3" ry="9.3" fill="#E0001B"/>
<ellipse cx="1224.30" cy="2406.20" rx="8.3" ry="9.3" fill="#E0001B"/>
<text transform="translate(72.65 2426.77) scale(1 1.04)" font-size="66.5" fill="#000">150</text>
<text transform="translate(72.65 2618.02) scale(1 1.04)" font-size="66.5" fill="#000">100</text>
<text transform="translate(102.90 2807.87) scale(1 1.04)" font-size="66.5" fill="#000">50</text>
<text transform="translate(134.40 2998.42) scale(1 1.04)" font-size="66.5" fill="#000">0</text>
<text transform="translate(1377.60 2408.27) scale(1 1.04)" font-size="66.5" fill="#000">100</text>
<text transform="translate(1375.50 2527.47) scale(1 1.04)" font-size="66.5" fill="#000">80</text>
<text transform="translate(1375.50 2649.77) scale(1 1.04)" font-size="66.5" fill="#000">60</text>
<text transform="translate(1375.30 2767.97) scale(1 1.04)" font-size="66.5" fill="#000">40</text>
<text transform="translate(1375.50 2887.47) scale(1 1.04)" font-size="66.5" fill="#000">20</text>
<text transform="translate(1376.50 3009.77) scale(1 1.04)" font-size="66.5" fill="#000">0</text>
<text transform="translate(307.90 3078.17) scale(1 1.04)" font-size="66.5" fill="#000">1</text>
<text transform="translate(530.70 3078.17) scale(1 1.04)" font-size="66.5" fill="#000">7</text>
<text transform="translate(743.70 3078.17) scale(1 1.04)" font-size="66.5" fill="#000">30</text>
<text transform="translate(966.30 3078.17) scale(1 1.04)" font-size="66.5" fill="#000">60</text>
<text transform="translate(1192.30 3078.17) scale(1 1.04)" font-size="66.5" fill="#000">90</text>
<text transform="translate(452.75 3187.53) scale(1 1.04)" font-size="66.5" fill="#000">Incubation time (days)</text>
<text transform="translate(53.10 2686.95) rotate(-90) translate(-301.00 17.68) scale(1 1.04)" font-size="67.2" fill="#000">UV filter content (%)</text>
<text transform="translate(1506.80 2688.75) rotate(90) translate(-107.50 17.68) scale(1 1.04)" font-size="67.5" fill="#000">EE (%)</text>
<rect x="171.60" y="3260.50" width="26.50" height="26.50" fill="#808080"/>
<rect x="630.20" y="3260.50" width="26.50" height="26.50" fill="#82ABDE"/>
<rect x="1002.20" y="3260.50" width="26.50" height="26.50" fill="#DF0021"/>
<text transform="translate(206.00 3295.20) scale(1 1.04)" font-size="66.5" fill="#000">Uvinul A Plus</text>
<text transform="translate(664.55 3295.20) scale(1 1.04)" font-size="66.5" fill="#000">Tinosorb S</text>
<text transform="translate(1040.75 3295.20) scale(1 1.04)" font-size="66.5" fill="#000">Uvinul T150</text>
<text font-weight="bold" style="font-family:'Liberation Serif', 'Times New Roman', serif" fill="#000"><tspan x="726.65" y="3407.40" font-size="75">(</tspan><tspan x="753.65" y="3415.85" font-size="84">c</tspan><tspan x="791.10" y="3407.40" font-size="75">)</tspan></text>
</svg>
</body></html>
